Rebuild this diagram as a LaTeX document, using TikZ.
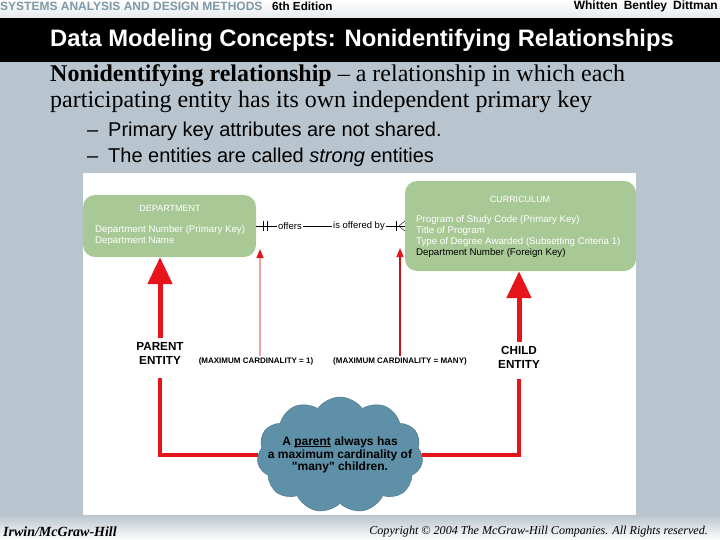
\documentclass[tikz,border=0pt]{standalone}
\usepackage{fontspec}
\setmainfont{Liberation Serif}
\setsansfont{Liberation Sans}[Ligatures=TeXOff]
\usetikzlibrary{shapes.symbols}
\usetikzlibrary{arrows.meta}
\definecolor{slidebg}{HTML}{B9C5CE}
\definecolor{entgreen}{HTML}{A8C995}
\definecolor{cloudblue}{HTML}{5E91A7}
\definecolor{hdrblue}{HTML}{7F97A6}
\definecolor{arrowred}{HTML}{E8141C}
\newcommand{\underword}[1]{\setbox0\hbox{#1}\rlap{\rule[-1.8pt]{\wd0}{0.8pt}}\box0\relax}
\tikzset{
	entbox/.style = {rectangle, rounded corners=12pt, fill=entgreen,
		inner sep=0pt},% entity box
	enttitle/.style = {white, font=\sffamily\fontsize{9}{10}\selectfont},% entity name
	entattr/.style = {anchor=west, align=left, inner sep=0pt, white,
		font=\sffamily\fontsize{9.7}{11}\selectfont},% attributes
	rellabel/.style = {inner sep=1pt, font=\sffamily\fontsize{9.5}{10}\selectfont},% relationship verb
	rolelabel/.style = {align=center, font=\sffamily\bfseries\fontsize{11.7}{14}\selectfont},% parent / child
	cardlabel/.style = {inner sep=1pt, font=\sffamily\bfseries\fontsize{8}{9}\selectfont},% cardinality
	bigarrow/.style = {arrowred, line width=5pt, -{Triangle[width=24pt,length=27pt]}},
	redline/.style = {arrowred, line width=4.5pt},
	thinarrow/.style = {line width=1.2pt, -{Triangle[width=7pt,length=9pt,color=arrowred]}}
}
\begin{document}
\begin{tikzpicture}[x=1pt,y=-1pt]
	% slide background
	\fill[slidebg] (0,0) rectangle (720,540);
	\shade[top color=white, bottom color=slidebg!35] (0,0) rectangle (720,18);
	\fill[black] (0,18) rectangle (720,62);
	\shade[top color=slidebg, bottom color=white] (0,515) rectangle (720,540);
	\fill[white] (83,173) rectangle (636,515);
	% header and footer
	\node[anchor=west, inner sep=0pt, hdrblue, font=\sffamily\bfseries\fontsize{12}{13}\selectfont] (book) at (0,6) {SYSTEMS ANALYSIS AND DESIGN METHODS};
	\node[anchor=west, inner sep=0pt, font=\sffamily\bfseries\fontsize{11.7}{13}\selectfont] (edition) at (272,6) {6th Edition};
	\node[anchor=east, inner sep=0pt, font=\sffamily\bfseries\fontsize{12}{13}\selectfont] (authors) at (718,6) {Whitten\enspace Bentley\enspace Dittman};
	\node[white, font=\sffamily\bfseries\fontsize{23.8}{27}\selectfont] (title) at (362,40) {Data Modeling Concepts: Nonidentifying Relationships};
	\node[anchor=west, inner sep=0pt, font=\bfseries\itshape\fontsize{14}{16}\selectfont] (publisher) at (3,532) {Irwin/McGraw-Hill};
	\node[anchor=east, inner sep=0pt, font=\itshape\fontsize{12.1}{14}\selectfont] (copyright) at (708,532) {Copyright © 2004 The McGraw-Hill Companies. All Rights reserved.};
	% slide text
	\node[anchor=west, align=left, inner sep=0pt, font=\fontsize{24}{26}\selectfont] (definition) at (50,89) {\textbf{Nonidentifying relationship} – a relationship in which each\\participating entity has its own independent primary key};
	\node[anchor=west, align=left, inner sep=0pt, font=\sffamily\fontsize{20}{26}\selectfont] (points) at (87,144) {\makebox[21pt][l]{–}Primary key attributes are not shared.\\\makebox[21pt][l]{–}The entities are called \textit{strong} entities};
	% entities
	\node[entbox, minimum width=173pt, minimum height=62pt] (dept) at (169.5,226) {};
	\node[enttitle] (depttitle) at (170,208) {DEPARTMENT};
	\node[entattr] (deptattr) at (95,235.5) {Department Number (Primary Key)\\Department Name};
	\node[entbox, minimum width=231pt, minimum height=90pt] (curr) at (520.5,226) {};
	\node[enttitle] (currtitle) at (520,199) {CURRICULUM};
	\node[entattr] (currattr) at (416,236.5) {Program of Study Code (Primary Key)\\Title of Program\\Type of Degree Awarded (Subsetting Criteria 1)\\\textcolor{black}{Department Number (Foreign Key)}};
	% relationship
	\node[rellabel] (offers) at (290,226) {offers};
	\node[rellabel] (offeredby) at (359,226) {is offered by};
	\draw[thin] (dept.east) -- (offers) -- (offeredby) -- (curr.west);
	\draw[thin] ([xshift=7pt]dept.east) ++(0,-5) -- ++(0,10);
	\draw[thin] ([xshift=11pt]dept.east) ++(0,-5) -- ++(0,10);
	\draw[thin] ([xshift=-9pt]curr.west) ++(0,-5) -- ++(0,10);
	\draw[thin] ([xshift=-6pt]curr.west) -- ([yshift=5pt]curr.west);
	\draw[thin] ([xshift=-6pt]curr.west) -- ([yshift=-5pt]curr.west);
	% cardinality pointers
	\node[cardlabel] (cardone) at (256,361) {(MAXIMUM CARDINALITY = 1)};
	\node[cardlabel] (cardmany) at (400,361) {(MAXIMUM CARDINALITY = MANY)};
	\coordinate (onetip) at (260,249);
	\coordinate (manytip) at (400,248);
	\draw[thinarrow, arrowred!40] (onetip |- cardone.north) -- (onetip);
	\draw[thinarrow, arrowred!85!black] (manytip |- cardmany.north) -- (manytip);
	% parent / child
	\node[rolelabel] (parent) at (160,353) {PARENT\\ENTITY};
	\node[rolelabel] (child) at (519,357) {CHILD\\ENTITY};
	\node[cloud, cloud puffs=11, cloud puff arc=110, aspect=1.5, fill=cloudblue,
		draw=cloudblue!80!black, inner sep=0pt, minimum width=166pt, minimum height=116pt] (note) at (340,455) {};
	\node[align=center, font=\sffamily\bfseries\fontsize{12}{12.8}\selectfont] (notetext) at (note)
		{A \underword{parent} always has\\a maximum cardinality of\\"many" children.};
	\draw[bigarrow] (parent.north) -- (parent.north |- dept.south);
	\draw[bigarrow] (child.north) -- (child.north |- curr.south);
	\draw[redline, shorten <=10pt] (parent.south) |- (note.west);
	\draw[redline, shorten <=7pt] (child.south) |- (note.east);
\end{tikzpicture}
\end{document}
